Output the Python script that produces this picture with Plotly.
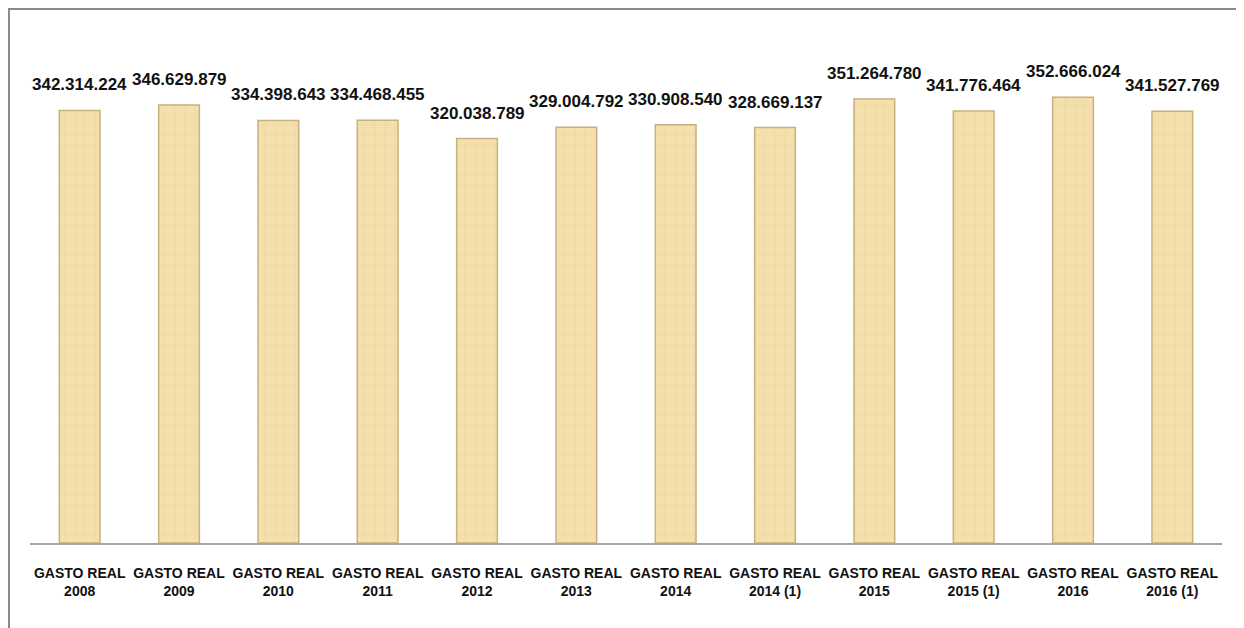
import plotly.graph_objects as go

# categories and values (Gasto real)
categorias = ['GASTO REAL<br>2008', 'GASTO REAL<br>2009', 'GASTO REAL<br>2010', 'GASTO REAL<br>2011',
              'GASTO REAL<br>2012', 'GASTO REAL<br>2013', 'GASTO REAL<br>2014', 'GASTO REAL<br>2014 (1)',
              'GASTO REAL<br>2015', 'GASTO REAL<br>2015 (1)', 'GASTO REAL<br>2016', 'GASTO REAL<br>2016 (1)']
valores = [342314224, 346629879, 334398643, 334468455, 320038789, 329004792,
           330908540, 328669137, 351264780, 341776464, 352666024, 341527769]

FONT = "Liberation Sans, Arial, sans-serif"

def fmt(v):
    return f"{v:,}".replace(",", ".")

fig = go.Figure()
fig.add_trace(go.Bar(
    x=categorias, y=valores,
    marker=dict(color='#F3E0AD',
                line=dict(color='#C9B07C', width=1.5),
                pattern=dict(shape='+', fgcolor='#E2C98F', fgopacity=0.4, size=10, solidity=0.12)),
    width=0.41,
))

# value labels above bars
for c, v in zip(categorias, valores):
    fig.add_annotation(x=c, y=v, text='<b>' + fmt(v) + '</b>', showarrow=False,
                       yanchor='bottom', yshift=14,
                       font=dict(family=FONT, size=17, color='#111111'))

# outer frame (page body has an 8px margin)
fig.add_shape(type='rect', xref='paper', yref='paper',
              x0=-21 / 1192, x1=1211 / 1192, y0=-0.3, y1=534 / 503,
              line=dict(color='#8a8a8a', width=2), fillcolor='rgba(0,0,0,0)', layer='below')

fig.update_layout(
    width=1236, height=620,
    margin=dict(l=22, r=22, t=32, b=85),
    plot_bgcolor='white', paper_bgcolor='white',
    showlegend=False,
    font=dict(family=FONT),
)
fig.update_xaxes(range=[-0.5, 11.5], autorange=False,
                 showline=True, linecolor='#a6a6a6', linewidth=1.5,
                 tickfont=dict(family=FONT, size=14, color='#111111'),
                 ticklabelstandoff=16, tickangle=0,
                 tickvals=categorias, ticktext=['<b>' + c + '</b>' for c in categorias])
fig.update_yaxes(range=[0, 398e6], visible=False, showgrid=False)

fig.write_html("out.html")
